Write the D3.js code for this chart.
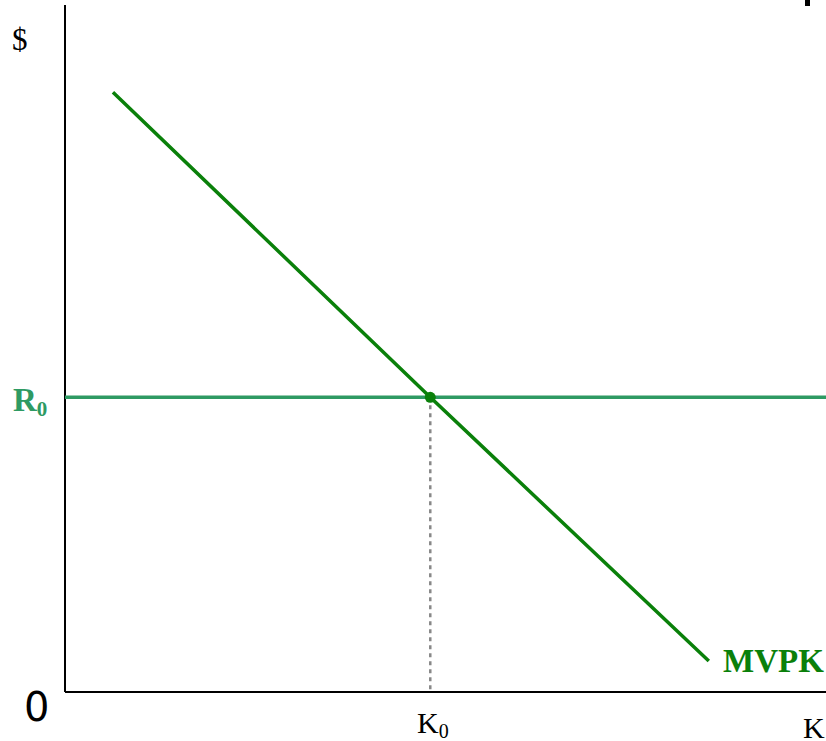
<!DOCTYPE html>
<html lang="en">
<head>
<meta charset="UTF-8">
<title>MVPK</title>
<script src="https://d3js.org/d3.v7.min.js"></script>
<style>
  body { margin: 0; background: #fff; }
  svg { display: block; }
</style>
</head>
<body>
<svg id="chart" width="826" height="741"></svg>
<script>
// curve and equilibrium values (axis units 0..100)
const mvpkX = [6.3, 48, 84.6];
const mvpkY = [87.3, 42.9, 4.5];
const r0 = 42.9;
const k0 = 48;

const svg = d3.select("#chart");
const x = d3.scaleLinear().domain([0, 100]).range([65, 826]);
const y = d3.scaleLinear().domain([0, 100]).range([692, 5]);

const serif = "'Liberation Serif', 'DejaVu Serif', serif";

// axes
svg.append("line").attr("x1", x(0)).attr("y1", y(0)).attr("x2", x(0)).attr("y2", y(100))
  .attr("stroke", "#000").attr("stroke-width", 2);
svg.append("line").attr("x1", x(0)).attr("y1", y(0)).attr("x2", x(100)).attr("y2", y(0))
  .attr("stroke", "#000").attr("stroke-width", 2);

// small black mark at top right
svg.append("rect").attr("x", 805).attr("y", 0).attr("width", 5).attr("height", 6).attr("fill", "#000");

// dotted drop line
svg.append("line").attr("x1", x(k0)).attr("y1", y(r0)).attr("x2", x(k0)).attr("y2", y(0))
  .attr("stroke", "#888").attr("stroke-width", 2.5).attr("stroke-dasharray", "4,4");

// R0 line
svg.append("line").attr("x1", x(0)).attr("y1", y(r0)).attr("x2", x(100)).attr("y2", y(r0))
  .attr("stroke", "#2e9a63").attr("stroke-width", 3.5);

// MVPK curve
const line = d3.line().x(d => x(d[0])).y(d => y(d[1]));
svg.append("path").datum(d3.zip(mvpkX, mvpkY))
  .attr("fill", "none").attr("stroke", "#0a800a").attr("stroke-width", 3.5).attr("d", line);

svg.append("circle").attr("cx", x(k0)).attr("cy", y(r0)).attr("r", 5.5).attr("fill", "#0a800a");

// labels
svg.append("text").attr("x", 12).attr("y", 50).attr("font-family", serif).attr("font-size", 31).text("$");

const r = svg.append("text").attr("x", 13).attr("y", 411).attr("font-family", serif)
  .attr("font-size", 33).attr("font-weight", "bold").attr("fill", "#2e9a63");
r.append("tspan").text("R");
r.append("tspan").attr("font-size", 21).attr("dy", 5).text("0");

svg.append("text").attr("x", 24).attr("y", 721).attr("font-family", "'DejaVu Sans', sans-serif")
  .attr("font-size", 40).text("0");

const k = svg.append("text").attr("x", 417).attr("y", 733).attr("font-family", serif).attr("font-size", 30);
k.append("tspan").text("K");
k.append("tspan").attr("font-size", 20).attr("dy", 5).text("0");

svg.append("text").attr("x", 803).attr("y", 738).attr("font-family", serif).attr("font-size", 30).text("K");

svg.append("text").attr("x", 723).attr("y", 672).attr("font-family", serif).attr("font-size", 33)
  .attr("font-weight", "bold").attr("fill", "#0a800a").text("MVPK");
</script>
</body>
</html>
